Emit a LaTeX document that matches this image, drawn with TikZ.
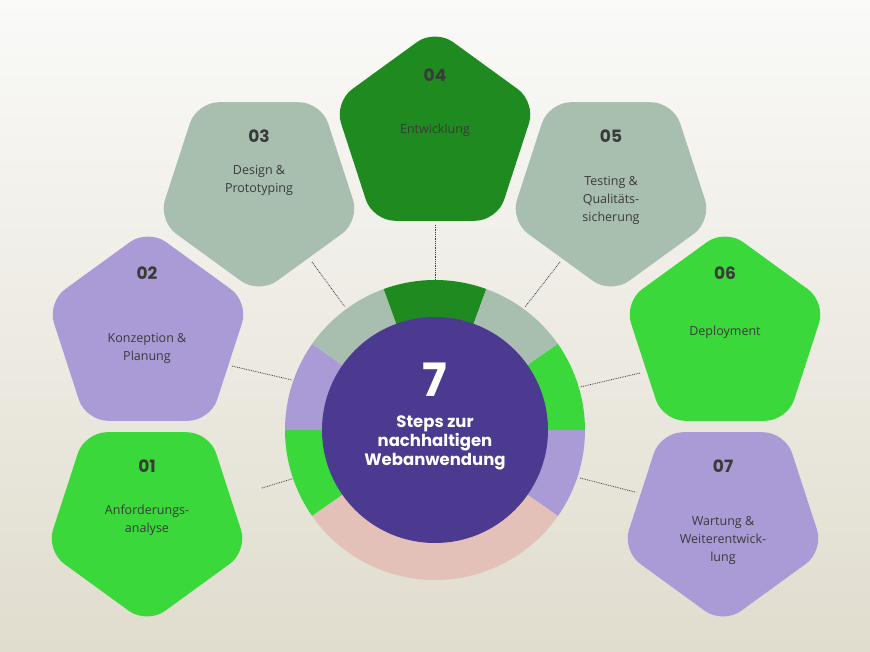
\documentclass[tikz,border=0pt]{standalone}
\usepackage{fontspec}
\setmainfont{Open Sans}
\newfontfamily\numfont{Poppins}
\usetikzlibrary{calc}
\definecolor{bgtop}{HTML}{FAFAF8}
\definecolor{bgbot}{HTML}{E0DCCE}
\definecolor{lgreen}{HTML}{3AD83A}
\definecolor{dgreen}{HTML}{1F8A1F}
\definecolor{sage}{HTML}{A8BFB0}
\definecolor{lav}{HTML}{AA9AD6}
\definecolor{deep}{HTML}{4B3A90}
\definecolor{rose}{HTML}{E3C0B8}
\definecolor{ink}{HTML}{3A3A3A}
\tikzset{
  num/.style={font=\numfont\bfseries\fontsize{17}{17}\selectfont, text=ink},
  lbl/.style={font=\fontsize{12.5}{18}\selectfont, text=ink, align=center},
  dotline/.style={densely dotted, thick, ink},
  ctext/.style={font=\numfont\bfseries\fontsize{16.5}{19}\selectfont, text=white, align=center}
}
\newcommand{\uppent}[3]{% apex up
  \fill[#3, rounded corners=22pt] ({#1+106*cos(-90)},{#2+106*sin(-90)}) -- ({#1+106*cos(-18)},{#2+106*sin(-18)}) -- ({#1+106*cos(54)},{#2+106*sin(54)}) -- ({#1+106*cos(126)},{#2+106*sin(126)}) -- ({#1+106*cos(198)},{#2+106*sin(198)}) -- cycle;}
\newcommand{\dnpent}[3]{% apex down
  \fill[#3, rounded corners=22pt] ({#1+106*cos(90)},{#2+106*sin(90)}) -- ({#1+106*cos(162)},{#2+106*sin(162)}) -- ({#1+106*cos(234)},{#2+106*sin(234)}) -- ({#1+106*cos(306)},{#2+106*sin(306)}) -- ({#1+106*cos(18)},{#2+106*sin(18)}) -- cycle;}
\newcommand{\seg}[3]{\fill[#3] (C) -- +(#1:150pt) arc[start angle=#1, end angle=#2, radius=150pt] -- cycle;}
\begin{document}
\begin{tikzpicture}[x=1pt,y=-1pt]
\shade[top color=bgtop, bottom color=bgbot] (0,0) rectangle (870,652);
\useasboundingbox (0,0) rectangle (870,652);
\coordinate (C) at (435,430);
% pentagons
\dnpent{147}{518}{lgreen}
\uppent{148}{335}{lav}
\dnpent{259}{188}{sage}
\uppent{435}{135}{dgreen}
\dnpent{611}{188}{sage}
\uppent{725}{335}{lgreen}
\dnpent{723}{518}{lav}
% connectors
\coordinate (a1) at (262,488); \coordinate (b1) at (295,478);
\coordinate (a2) at (232,366); \coordinate (b2) at (292,380);
\coordinate (a3) at (312,262); \coordinate (b3) at (345,307);
\coordinate (a4) at (435,225); \coordinate (b4) at (435,280);
\coordinate (a5) at (560,262); \coordinate (b5) at (525,307);
\coordinate (a6) at (640,373); \coordinate (b6) at (580,387);
\coordinate (a7) at (635,492); \coordinate (b7) at (580,478);
\foreach \i in {1,...,7} \draw[dotline] (a\i) -- (b\i);
% ring
\seg{180}{215}{lgreen}
\seg{145}{180}{lav}
\seg{110}{145}{sage}
\seg{70}{110}{dgreen}
\seg{35}{70}{sage}
\seg{0}{35}{lgreen}
\seg{-35}{0}{lav}
\seg{215}{325}{rose}
\fill[deep] (C) circle[radius=113pt];
\node[ctext, font=\numfont\bfseries\fontsize{46}{46}\selectfont] (seven) at (435,380) {7};
\node[ctext] (title) at (435,443) {Steps zur\\nachhaltigen\\Webanwendung};
% labels
\node[num] (n1) at (147,466) {01};
\node[lbl] (t1) at (147,520) {Anforderungs-\\analyse};
\node[num] (n2) at (147,273) {02};
\node[lbl] (t2) at (147,348) {Konzeption \&\\Planung};
\node[num] (n3) at (259,136) {03};
\node[lbl] (t3) at (259,180) {Design \&\\Prototyping};
\node[num] (n4) at (435,75) {04};
\node[lbl] (t4) at (435,130) {Entwicklung};
\node[num] (n5) at (611,136) {05};
\node[lbl] (t5) at (611,200) {Testing \&\\Qualitäts-\\sicherung};
\node[num] (n6) at (725,273) {06};
\node[lbl] (t6) at (725,332) {Deployment};
\node[num] (n7) at (723,466) {07};
\node[lbl] (t7) at (723,540) {Wartung \&\\Weiterentwick-\\lung};
\end{tikzpicture}
\end{document}
